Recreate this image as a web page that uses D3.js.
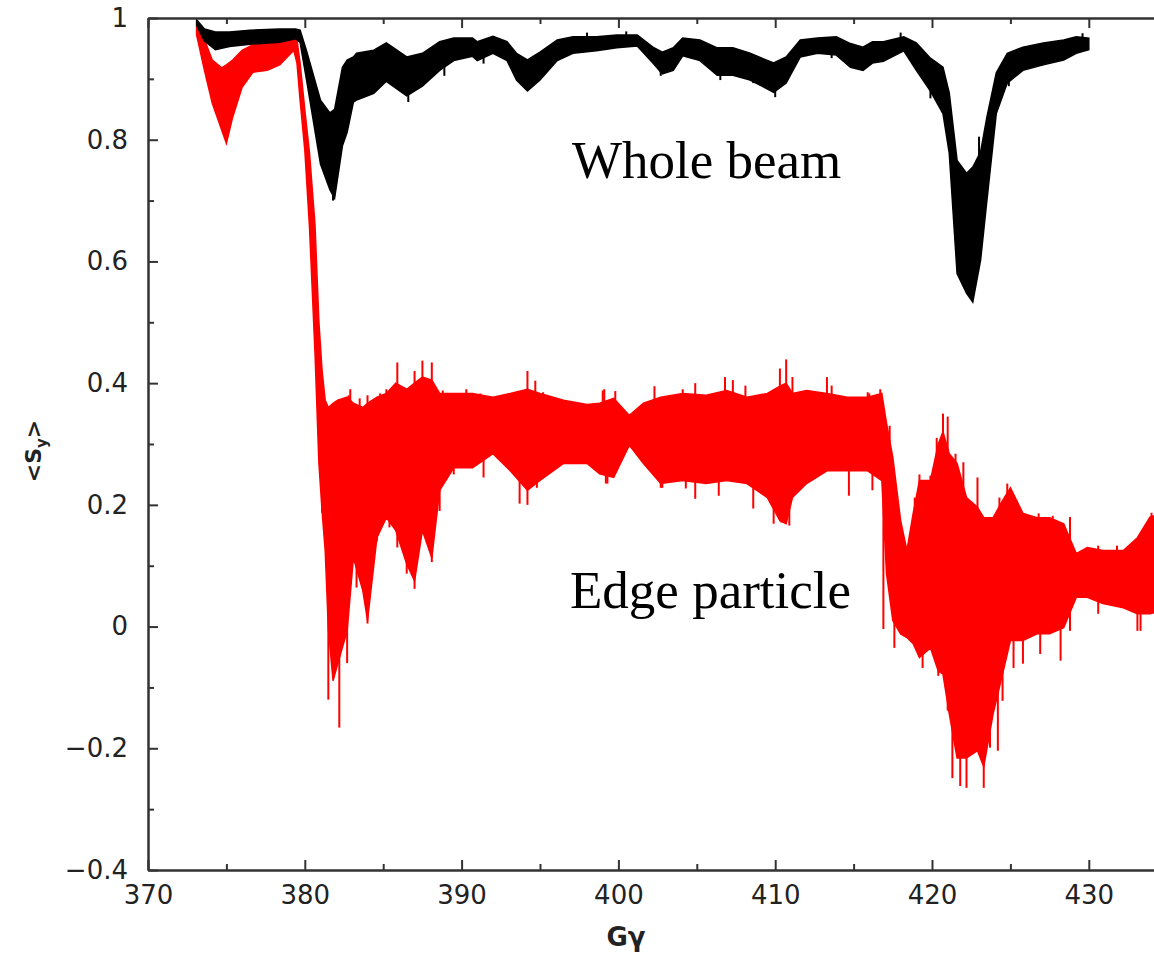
<!DOCTYPE html>
<html lang="en">

<head>
  <meta charset="UTF-8">
  <title>Spin polarization vs G gamma</title>
  <script src="https://d3js.org/d3.v7.min.js"></script>
  <style>
    body {
      margin: 0;
      background: #fff;
    }

    .tick text {
      font-family: 'DejaVu Sans', sans-serif;
      font-size: 26px;
      fill: #222;
    }

    .annot {
      font-family: 'Liberation Serif', 'Times New Roman', serif;
      font-size: 53px;
      fill: #000;
    }
  </style>
</head>

<body>
  <div id="chart"></div>

  <script>
    // Whole beam (black): envelope of the fast oscillation
    const beamX = [373.1, 373.6, 374.3, 375.2, 376.5, 378.4, 379.4, 379.7, 380.1, 381.0, 381.6, 381.9, 382.4, 382.7,
      383.1, 383.3, 384.4, 385.2, 386.5, 387.5, 388.6, 389.5, 390.7, 391.0, 392.0, 392.9, 393.5, 394.2, 395.0, 396.1,
      397.1, 398.6, 399.9, 401.2, 402.2, 402.8, 403.5, 404.1, 405.2, 406.3, 407.3, 408.4, 409.9, 410.7, 411.6, 412.7,
      413.9, 414.8, 415.6, 416.2, 416.9, 418.2, 419.0, 419.9, 420.7, 421.1, 421.6, 422.2, 422.6, 423.1, 423.5, 424.1,
      424.8, 425.8, 427.1, 428.4, 429.2, 430.0];
    const beamHi = [0.997, 0.982, 0.977, 0.977, 0.980, 0.982, 0.982, 0.980, 0.947, 0.865, 0.844, 0.850, 0.919, 0.931,
      0.936, 0.942, 0.947, 0.959, 0.936, 0.942, 0.961, 0.967, 0.967, 0.961, 0.970, 0.961, 0.942, 0.931, 0.944, 0.964,
      0.969, 0.969, 0.972, 0.972, 0.952, 0.944, 0.951, 0.967, 0.964, 0.951, 0.951, 0.942, 0.926, 0.936, 0.964, 0.967,
      0.969, 0.958, 0.952, 0.961, 0.961, 0.969, 0.959, 0.934, 0.919, 0.877, 0.766, 0.745, 0.755, 0.780, 0.837, 0.910,
      0.942, 0.952, 0.959, 0.964, 0.969, 0.967];
    const beamLo = [0.988, 0.962, 0.948, 0.953, 0.957, 0.960, 0.966, 0.960, 0.900, 0.760, 0.718, 0.704, 0.790, 0.812,
      0.862, 0.865, 0.876, 0.896, 0.872, 0.888, 0.914, 0.930, 0.937, 0.930, 0.942, 0.930, 0.898, 0.880, 0.898, 0.930,
      0.942, 0.946, 0.951, 0.954, 0.926, 0.908, 0.914, 0.938, 0.930, 0.906, 0.906, 0.898, 0.878, 0.893, 0.936, 0.942,
      0.939, 0.919, 0.914, 0.926, 0.929, 0.946, 0.914, 0.880, 0.843, 0.778, 0.580, 0.548, 0.533, 0.602, 0.700, 0.843,
      0.893, 0.914, 0.923, 0.931, 0.942, 0.948];
    // Isolated spikes of the whole beam trace: [G gamma, tip value]
    const beamSpikes = [[381.8, 0.70], [386.6, 0.862], [388.9, 0.905], [391.4, 0.925], [402.7, 0.905], [406.5, 0.898],
      [408.6, 0.893], [410.0, 0.870], [413.6, 0.934], [419.9, 0.868], [423.0, 0.805], [424.9, 0.888], [427.0, 0.922],
      [398.0, 0.976], [400.5, 0.978], [418.0, 0.976], [429.6, 0.975]];

    // Edge particle (red)
    const edgeX = [373.1, 373.6, 374.1, 374.7, 375.0, 375.4, 376.0, 376.7, 377.6, 378.4, 379.3, 379.5, 379.7, 380.0,
      380.3, 380.65, 380.9, 381.1, 381.3, 381.5, 381.8, 382.1, 382.7, 383.1, 383.7, 384.0, 384.6, 385.2, 385.8, 386.5,
      387.0, 387.5, 388.1, 388.6, 389.5, 390.7, 392.0, 393.1, 394.2, 395.0, 396.5, 398.0, 398.8, 399.7, 400.7, 401.6,
      402.7, 404.1, 405.6, 406.9, 408.2, 409.5, 410.3, 410.7, 411.1, 412.0, 413.3, 414.6, 415.9, 416.8, 417.1, 417.5,
      418.0, 418.4, 418.8, 419.2, 419.9, 420.4, 420.7, 421.1, 421.6, 422.2, 422.9, 423.3, 423.9, 424.5, 425.0, 425.8,
      426.7, 427.5, 428.4, 429.2, 429.9, 430.9, 432.2, 433.1, 433.9, 434.5];
    const edgeHi = [0.984, 0.964, 0.931, 0.918, 0.923, 0.931, 0.947, 0.956, 0.959, 0.961, 0.965, 0.964, 0.926, 0.849,
      0.778, 0.660, 0.500, 0.421, 0.372, 0.360, 0.367, 0.372, 0.377, 0.367, 0.360, 0.367, 0.377, 0.383, 0.400, 0.390,
      0.400, 0.410, 0.405, 0.383, 0.383, 0.383, 0.377, 0.383, 0.390, 0.383, 0.372, 0.365, 0.367, 0.375, 0.347, 0.367,
      0.377, 0.383, 0.380, 0.388, 0.377, 0.383, 0.395, 0.400, 0.383, 0.388, 0.383, 0.377, 0.377, 0.383, 0.334, 0.278,
      0.174, 0.125, 0.186, 0.240, 0.240, 0.300, 0.320, 0.284, 0.268, 0.212, 0.196, 0.179, 0.179, 0.207, 0.228, 0.186,
      0.179, 0.179, 0.169, 0.120, 0.130, 0.125, 0.125, 0.146, 0.180, 0.185];
    const edgeLo = [0.972, 0.914, 0.860, 0.816, 0.794, 0.837, 0.886, 0.911, 0.914, 0.923, 0.947, 0.926, 0.865, 0.783,
      0.656, 0.450, 0.268, 0.191, 0.125, -0.002, -0.089, -0.061, -0.007, 0.113, 0.059, 0.010, 0.146, 0.179, 0.158, 0.103,
      0.075, 0.158, 0.113, 0.224, 0.261, 0.261, 0.284, 0.256, 0.224, 0.240, 0.268, 0.268, 0.251, 0.245, 0.298, 0.268,
      0.235, 0.240, 0.235, 0.240, 0.235, 0.212, 0.174, 0.169, 0.212, 0.235, 0.256, 0.256, 0.256, 0.240, 0.087, 0.010,
      -0.012, -0.018, -0.028, -0.051, -0.035, -0.073, -0.078, -0.143, -0.216, -0.216, -0.204, -0.230, -0.143, -0.078, -0.023, -0.023,
      -0.012, -0.012, -0.002, 0.048, 0.048, 0.038, 0.031, 0.021, 0.021, 0.025];

    // Isolated spikes of the edge particle trace: [G gamma, tip value]
    const edgeSpikes = [
      // upward
      [381.9, 0.367], [382.8, 0.38], [382.9, 0.39], [383.5, 0.375], [384.0, 0.38], [384.8, 0.383], [385.2, 0.39],
      [385.9, 0.434], [386.5, 0.388], [387.0, 0.42], [387.5, 0.437], [388.1, 0.434], [388.4, 0.383], [388.8, 0.388],
      [390.3, 0.39], [391.2, 0.383], [393.1, 0.383], [394.2, 0.42], [394.7, 0.404], [395.2, 0.385], [397.1, 0.368],
      [399.0, 0.388], [399.1, 0.39], [399.8, 0.387], [402.3, 0.395], [404.1, 0.39], [404.9, 0.40], [406.8, 0.41],
      [407.3, 0.405], [408.1, 0.396], [410.3, 0.424], [410.7, 0.439], [411.1, 0.41], [413.3, 0.41], [413.6, 0.396],
      [415.3, 0.377], [415.9, 0.385], [416.0, 0.383], [416.7, 0.39], [417.3, 0.33], [418.9, 0.212], [419.2, 0.25],
      [419.9, 0.248], [420.3, 0.31], [420.7, 0.35], [421.0, 0.345], [421.5, 0.284], [422.0, 0.27], [422.9, 0.245],
      [424.3, 0.212], [424.8, 0.235], [425.4, 0.207], [425.9, 0.186], [426.8, 0.186], [427.7, 0.182], [428.8, 0.18],
      [430.6, 0.133], [431.8, 0.133], [433.4, 0.153], [434.0, 0.187],
      // downward
      [381.1, 0.187], [381.5, -0.12], [382.2, -0.166], [382.7, -0.06], [383.0, 0.125], [383.3, 0.064], [383.6, 0.108],
      [384.0, 0.005], [384.6, 0.14], [385.4, 0.163], [385.9, 0.13], [386.5, 0.087], [387.0, 0.062], [388.1, 0.106],
      [388.6, 0.19], [389.5, 0.25], [391.4, 0.245], [393.7, 0.202], [394.2, 0.20], [394.8, 0.228], [399.2, 0.235],
      [399.3, 0.235], [402.7, 0.228], [402.8, 0.228], [404.3, 0.227], [404.9, 0.21], [406.4, 0.215], [408.6, 0.194],
      [409.9, 0.169], [410.4, 0.171], [410.9, 0.166], [414.7, 0.215], [416.2, 0.224], [416.9, -0.004], [417.6, -0.035],
      [418.2, -0.012], [419.4, -0.068], [420.4, -0.081], [421.0, -0.138], [421.3, -0.249], [421.8, -0.262], [422.2, -0.265],
      [423.3, -0.265], [423.7, -0.199], [424.2, -0.204], [424.5, -0.122], [425.2, -0.068], [425.8, -0.061], [426.9, -0.045],
      [428.2, -0.056], [428.8, -0.007], [430.6, 0.021], [433.1, -0.007], [433.3, -0.007]
    ];

    // Axis ticks
    const xMajor = [370, 380, 390, 400, 410, 420, 430];
    const xMinor = [375, 385, 395, 405, 415, 425, 435];
    const yMajor = [1, 0.8, 0.6, 0.4, 0.2, 0, -0.2, -0.4];
    const yTickLabels = ["1", "0.8", "0.6", "0.4", "0.2", "0", "\u22120.2", "\u22120.4"];
    const yMinor = [0.9, 0.7, 0.5, 0.3, 0.1, -0.1, -0.3];

    // Dimensions (plot box: left axis at 148, top border at 18, bottom axis at 870)
    var width = 1154;
    var height = 953;
    var plotLeft = 148, plotTop = 18, plotBottom = 870;

    var svg = d3.select("#chart")
      .append("svg")
      .attr("width", width)
      .attr("height", height);

    var x = d3.scaleLinear().domain([370, 435]).range([plotLeft, plotLeft + 65 * 15.68]);
    var y = d3.scaleLinear().domain([-0.4, 1]).range([plotBottom, plotTop]);

    svg.append("defs").append("clipPath")
      .attr("id", "plot")
      .append("rect")
      .attr("x", plotLeft)
      .attr("y", plotTop)
      .attr("width", width - plotLeft)
      .attr("height", plotBottom - plotTop);

    var area = d3.area()
      .x(function (d) { return x(d[0]); })
      .y0(function (d) { return y(d[2]); })
      .y1(function (d) { return y(d[1]); });

    var beam = beamX.map(function (v, i) { return [v, beamHi[i], beamLo[i]]; });
    var edge = edgeX.map(function (v, i) { return [v, edgeHi[i], edgeLo[i]]; });

    // a spike starts from the middle of its band, so only its tip shows
    function bandMid(xs, hi, lo, v) {
      var i = Math.max(1, Math.min(xs.length - 1, d3.bisectLeft(xs, v)));
      var t = (v - xs[i - 1]) / (xs[i] - xs[i - 1]);
      return ((hi[i - 1] + lo[i - 1]) * (1 - t) + (hi[i] + lo[i]) * t) / 2;
    }

    function drawTrace(g, band, spikes, xs, hi, lo, color) {
      g.append("g")
        .selectAll("line")
        .data(spikes)
        .enter()
        .append("line")
        .attr("x1", function (d) { return x(d[0]); })
        .attr("x2", function (d) { return x(d[0]); })
        .attr("y1", function (d) { return y(bandMid(xs, hi, lo, d[0])); })
        .attr("y2", function (d) { return y(d[1]); })
        .style("stroke", color)
        .style("stroke-width", 2);

      g.append("path")
        .datum(band)
        .attr("d", area)
        .style("fill", color)
        .style("stroke", color)
        .style("stroke-width", 1.5);
    }

    var plot = svg.append("g").attr("clip-path", "url(#plot)");
    drawTrace(plot, edge, edgeSpikes, edgeX, edgeHi, edgeLo, "#ff0000");
    drawTrace(plot, beam, beamSpikes, beamX, beamHi, beamLo, "#000");

    // Axes
    function styleAxis(g) {
      g.selectAll(".domain").style("stroke", "#333").style("stroke-width", 2);
      g.selectAll(".tick line").style("stroke", "#333").style("stroke-width", 2);
    }

    svg.append("g")
      .attr("transform", "translate(0," + plotBottom + ")")
      .call(d3.axisBottom(x).tickValues(xMajor).tickSize(-10).tickSizeOuter(0).tickPadding(16).tickFormat(d3.format("d")))
      .call(styleAxis);
    svg.append("g")
      .attr("transform", "translate(0," + plotBottom + ")")
      .call(d3.axisBottom(x).tickValues(xMinor).tickSize(-6).tickSizeOuter(0).tickFormat(""))
      .call(styleAxis);

    svg.append("g")
      .attr("transform", "translate(0," + plotTop + ")")
      .call(d3.axisTop(x).tickValues(xMajor).tickSize(-10).tickSizeOuter(0).tickFormat(""))
      .call(styleAxis);
    svg.append("g")
      .attr("transform", "translate(0," + plotTop + ")")
      .call(d3.axisTop(x).tickValues(xMinor).tickSize(-6).tickSizeOuter(0).tickFormat(""))
      .call(styleAxis);

    svg.append("g")
      .attr("transform", "translate(" + plotLeft + ",0)")
      .call(d3.axisLeft(y).tickValues(yMajor).tickSize(-10).tickSizeOuter(0).tickPadding(20)
        .tickFormat(function (d, i) { return yTickLabels[i]; }))
      .call(styleAxis);
    svg.append("g")
      .attr("transform", "translate(" + plotLeft + ",0)")
      .call(d3.axisLeft(y).tickValues(yMinor).tickSize(-6).tickSizeOuter(0).tickFormat(""))
      .call(styleAxis);

    // Axis titles
    svg.append("text")
      .attr("x", 626)
      .attr("y", 946)
      .attr("text-anchor", "middle")
      .style("font-family", "'DejaVu Sans', sans-serif")
      .style("font-weight", "bold")
      .style("font-size", "26px")
      .style("fill", "#222")
      .text("G\u03b3");

    var yTitle = svg.append("text")
      .attr("transform", "translate(41,451) rotate(-90)")
      .attr("text-anchor", "middle")
      .style("font-family", "'DejaVu Sans', sans-serif")
      .style("font-weight", "bold")
      .style("font-size", "22px")
      .style("fill", "#222");
    yTitle.append("tspan").text("<S");
    yTitle.append("tspan").attr("dy", 6).style("font-size", "15px").text("y");
    yTitle.append("tspan").attr("dy", -6).text(">");

    // Annotations
    svg.append("text")
      .attr("class", "annot")
      .attr("x", 572)
      .attr("y", 178)
      .text("Whole beam");

    svg.append("text")
      .attr("class", "annot")
      .attr("x", 570)
      .attr("y", 608)
      .text("Edge particle");
  </script>
</body>

</html>
